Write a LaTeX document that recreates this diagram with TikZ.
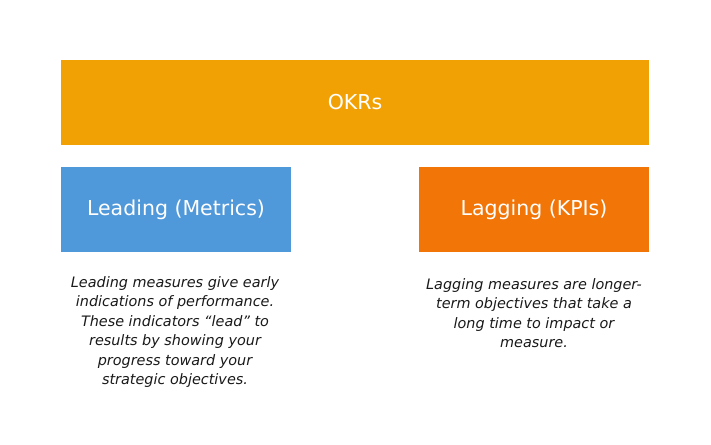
\documentclass[tikz,border=0pt]{standalone}
\usepackage{fontspec}
\setmainfont{DejaVu Sans}
\definecolor{okrc}{HTML}{F2A104}
\definecolor{leadc}{HTML}{4F98D9}
\definecolor{lagc}{HTML}{F27507}
\definecolor{txtc}{HTML}{1A1A1A}
\begin{document}
\begin{tikzpicture}[x=1pt,y=-1pt,
  bar/.style={fill=#1, draw=none, inner sep=0pt, text=white, font=\fontsize{20.5}{24}\selectfont},
  desc/.style={align=center, text=txtc, inner sep=0pt, font=\fontsize{14.4}{19.4}\selectfont\itshape}]
\useasboundingbox (0,0) rectangle (711,444);
\fill[white] (0,0) rectangle (711,444);
\node[bar=okrc, minimum width=588pt, minimum height=85pt] (okr) at (355,102.5) {OKRs};
\node[bar=leadc, minimum width=230pt, minimum height=85pt] (lead) at (176,209.5) {Leading (Metrics)};
\node[bar=lagc, minimum width=230pt, minimum height=85pt] (lag) at (534,209.5) {Lagging (KPIs)};
\node[desc] (leadd) at (175,332) {Leading measures give early\\indications of performance.\\These indicators “lead” to\\results by showing your\\progress toward your\\strategic objectives.};
\node[desc] (lagd) at (534,313) {Lagging measures are longer-\\term objectives that take a\\long time to impact or\\measure.};
\end{tikzpicture}
\end{document}
